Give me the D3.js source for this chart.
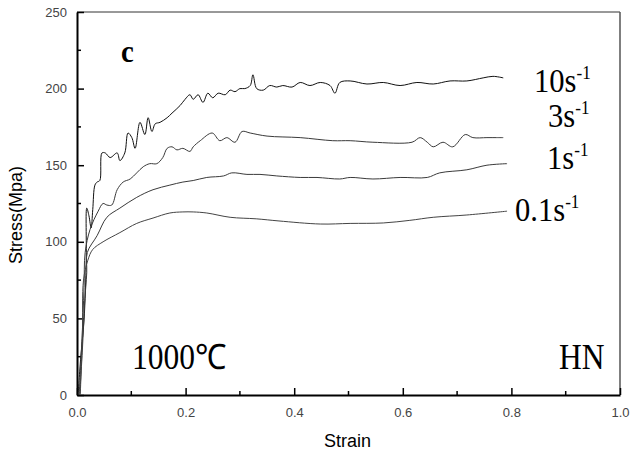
<!DOCTYPE html>
<html>
<head>
<meta charset="utf-8">
<script src="https://cdn.jsdelivr.net/npm/d3@7"></script>
<style>
  body { margin: 0; background: #fff; }
  svg { display: block; }
  .tick text { font-family: "Liberation Sans", Arial, sans-serif; font-size: 13px; fill: #444; }
  .serif { font-family: "Liberation Serif", "Times New Roman", Times, serif; fill: #000; }
  .sans { font-family: "Liberation Sans", Arial, sans-serif; fill: #000; }
</style>
</head>
<body>
<script>
// strain / stress pairs
var rate10 = [[0.002,0],[0.007,25],[0.013,49],[0.017,88],[0.018,122],[0.022,117],[0.026,109],[0.029,121],
  [0.033,137],[0.037,139],[0.042,140],[0.046,158],[0.052,158],[0.061,155],[0.074,158],[0.079,153],[0.088,158],
  [0.094,171],[0.101,168],[0.107,161],[0.116,178],[0.125,170],[0.131,181],[0.138,172],[0.144,177],[0.153,178],
  [0.166,181],[0.175,184],[0.19,189],[0.199,193],[0.208,196],[0.214,193],[0.223,196],[0.232,191],[0.241,197],
  [0.25,194],[0.26,197],[0.273,196],[0.282,199],[0.291,198],[0.3,200],[0.309,200],[0.319,202],[0.324,209],
  [0.331,200],[0.343,199],[0.355,202],[0.368,201],[0.379,202],[0.396,201],[0.411,204],[0.429,202],[0.448,204],
  [0.466,202],[0.475,197],[0.484,204],[0.503,205],[0.534,203],[0.564,204],[0.595,202],[0.626,204],[0.656,203],
  [0.687,205],[0.718,205],[0.748,207],[0.766,208],[0.785,207]];

var rate3 = [[0.004,0],[0.009,35],[0.013,70],[0.015,93],[0.024,108],[0.039,120],[0.048,125],[0.055,124],
  [0.064,124],[0.074,134],[0.085,139],[0.098,141],[0.11,145],[0.122,149],[0.134,151],[0.147,151],[0.158,155],
  [0.166,161],[0.175,162],[0.184,160],[0.195,161],[0.208,159],[0.214,162],[0.227,166],[0.249,171],[0.263,166],
  [0.276,168],[0.291,165],[0.304,172],[0.319,171],[0.35,169],[0.411,168],[0.471,166],[0.503,166],[0.545,165],
  [0.617,165],[0.632,168],[0.645,165],[0.656,162],[0.674,165],[0.692,162],[0.715,170],[0.729,168],[0.755,168],
  [0.773,168],[0.785,168]];

var rate1 = [[0.005,0],[0.01,30],[0.014,60],[0.018,80],[0.019,93],[0.037,104],[0.055,116],[0.079,122],
  [0.11,129],[0.14,134],[0.171,137],[0.195,139],[0.214,140],[0.239,142],[0.27,143],[0.285,145],[0.313,144],
  [0.337,144],[0.368,143],[0.411,142],[0.442,142],[0.484,141],[0.503,142],[0.545,141],[0.595,142],[0.645,142],
  [0.668,145],[0.718,147],[0.755,150],[0.792,151]];

var rate01 = [[0.006,0],[0.01,40],[0.012,75],[0.02,88],[0.029,95],[0.048,100],[0.079,106],[0.11,112],
  [0.14,115.5],[0.171,118.8],[0.195,119.5],[0.214,119.5],[0.239,118.8],[0.282,116],[0.33,115],[0.372,113.6],
  [0.448,111.6],[0.503,112],[0.564,112.3],[0.613,114],[0.656,116],[0.718,117.5],[0.792,120]];

var rateLabels = ["10s", "3s", "1s", "0.1s"];
var xTicks = [0, 0.2, 0.4, 0.6, 0.8, 1.0];
var yTicks = [0, 50, 100, 150, 200, 250];

var width = 634, height = 457;
var margin = {top: 12, right: 14, bottom: 62, left: 77};
var w = width - margin.left - margin.right,
    h = height - margin.top - margin.bottom;

var x = d3.scaleLinear().domain([0, 1]).range([0, w]);
var y = d3.scaleLinear().domain([0, 250]).range([h, 0]);

var svg = d3.select("body").append("svg")
    .attr("width", width)
    .attr("height", height);

var g = svg.append("g")
    .attr("transform", "translate(" + margin.left + "," + margin.top + ")");

// frame: thin top/right
g.append("line").attr("x1", 0).attr("x2", w).attr("y1", 0).attr("y2", 0)
  .attr("stroke", "#333").attr("stroke-width", 1);
g.append("line").attr("x1", w).attr("x2", w).attr("y1", 0).attr("y2", h)
  .attr("stroke", "#555").attr("stroke-width", 1.5);

// minor ticks
var xMinor = d3.range(0.1, 1, 0.2);
var yMinor = d3.range(25, 250, 50);
g.selectAll(".xminor").data(xMinor).enter().append("line")
  .attr("x1", d => x(d)).attr("x2", d => x(d)).attr("y1", h).attr("y2", h - 4)
  .attr("stroke", "#000").attr("stroke-width", 1.5);
g.selectAll(".yminor").data(yMinor).enter().append("line")
  .attr("x1", 0).attr("x2", 4).attr("y1", d => y(d)).attr("y2", d => y(d))
  .attr("stroke", "#000").attr("stroke-width", 1.5);

// axes, ticks pointing inward
var xAxis = g.append("g")
  .attr("transform", "translate(0," + h + ")")
  .call(d3.axisBottom(x).tickValues(xTicks).tickFormat(d3.format(".1f")).tickSizeInner(-7).tickSizeOuter(0).tickPadding(13));
var yAxis = g.append("g")
  .call(d3.axisLeft(y).tickValues(yTicks).tickFormat(d3.format("d")).tickSizeInner(-7).tickSizeOuter(0).tickPadding(10));
[xAxis, yAxis].forEach(function (a) {
  a.select(".domain").attr("stroke", "#000").attr("stroke-width", 2);
  a.selectAll(".tick line").attr("stroke", "#000").attr("stroke-width", 1.5);
});

// curves (smoothed like the plotted signal)
var line = d3.line().x(d => x(d[0])).y(d => y(d[1])).curve(d3.curveCatmullRom.alpha(0.5));
var series = [rate10, rate3, rate1, rate01];
var colors = ["#111", "#3a3a3a", "#3a3a3a", "#444"];
series.forEach(function (s, i) {
  g.append("path")
    .datum(s)
    .attr("fill", "none")
    .attr("stroke", colors[i])
    .attr("stroke-width", 1)
    .attr("d", line);
});

// axis titles
svg.append("text")
  .attr("class", "sans")
  .attr("x", margin.left + w / 2 - 1)
  .attr("y", 447)
  .attr("text-anchor", "middle")
  .style("font-size", "18px")
  .text("Strain");
svg.append("text")
  .attr("class", "sans")
  .attr("transform", "translate(22,215) rotate(-90)")
  .attr("text-anchor", "middle")
  .style("font-size", "18px")
  .text("Stress(Mpa)");

// serif annotations
function serif(px, py, size, txt, sup) {
  var t = svg.append("text")
    .attr("class", "serif")
    .attr("transform", "translate(" + px + "," + py + ") scale(0.9,1)")
    .style("font-size", size + "px")
    .text(txt);
  if (sup) {
    t.append("tspan")
      .attr("dy", -13)
      .style("font-size", "19px")
      .text(sup);
  }
  return t;
}

serif(121, 62, 32, "c").style("font-weight", "bold");
serif(132, 369, 35, "1000\u2103");
serif(559, 369, 35, "HN");

var labelPos = [[534, 92], [548, 127], [547, 169], [515, 221]];
rateLabels.forEach(function (lab, i) {
  serif(labelPos[i][0], labelPos[i][1], 34, lab, "-1");
});
</script>
</body>
</html>
